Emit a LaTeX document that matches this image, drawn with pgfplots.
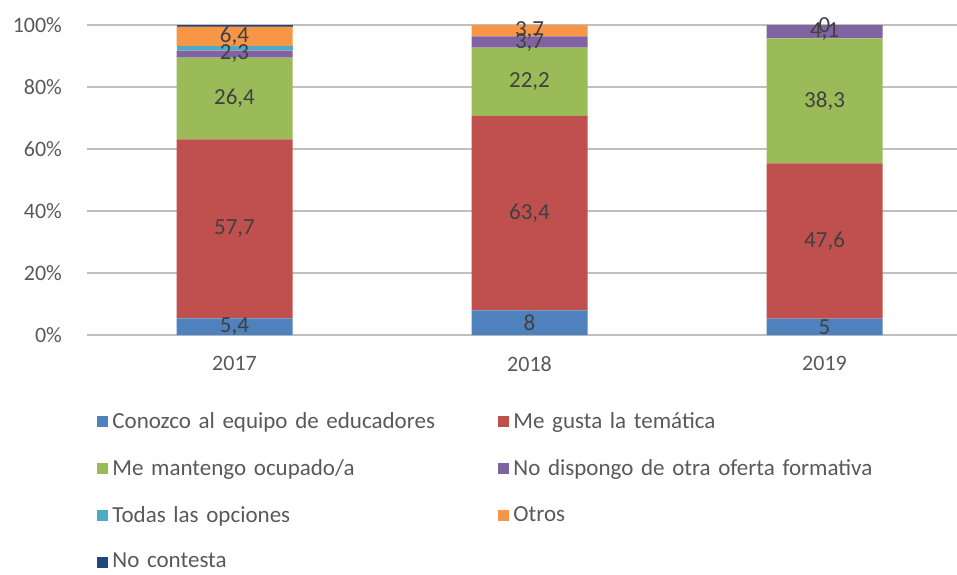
\documentclass[border=0pt]{standalone}
\usepackage{fontspec}
\setmainfont{Carlito}
\usepackage{pgfplots}
\pgfplotsset{compat=1.18}
\usetikzlibrary{calc}

\definecolor{cBlue}{HTML}{4F81BD}
\definecolor{cRed}{HTML}{C0504D}
\definecolor{cGreen}{HTML}{9BBB59}
\definecolor{cPurple}{HTML}{8064A2}
\definecolor{cCyan}{HTML}{4BACC6}
\definecolor{cOrange}{HTML}{F79646}
\definecolor{cNavy}{HTML}{1F497D}
\definecolor{txt}{HTML}{595959}
\definecolor{lbl}{HTML}{404040}
\definecolor{grid}{HTML}{D9D9D9}

\pgfplotsset{
  frame/.style={
    scale only axis,
    width=435pt, height=155pt,
    xmin=-0.5, xmax=2.449,
    ymin=0, ymax=100,
  }
}

\begin{document}
\begin{tikzpicture}
  \begin{axis}[
    name=ax, frame,
    ybar stacked,
    bar width=58pt,
    xtick={0,1,2},
    xticklabels={2017,2018,2019},
    ytick={0,20,...,100},
    yticklabel={\pgfmathprintnumber{\tick}\%},
    /pgf/number format/assume math mode=true,
    ymajorgrids,
    grid style={grid, line width=0.8pt},
    axis line style={draw=none},
    major tick length=0pt,
    tick label style={font=\fontsize{11}{13}\selectfont, text=txt},
    yticklabel style={xshift=-9pt},
    xticklabel style={yshift=-7pt},
    legend style={
      at={(0.0115,-0.235)}, anchor=north west,
      draw=none, fill=none,
      legend columns=2,
      font=\fontsize{11.5}{13}\selectfont, text=txt,
      nodes={text width=191pt, align=left},
      row sep=10pt,
      inner sep=0pt,
    },
    legend cell align=left,
    legend image code/.code={\fill[#1] (0pt,-2.75pt) rectangle (5.5pt,2.75pt);},
  ]
    % shares per year (the chart is a 100% stack)
    \addplot[fill=cBlue, draw=none] coordinates {(0,5.4) (1,7.921) (2,5.263)};
    \addplot[fill=cRed, draw=none] coordinates {(0,57.7) (1,62.772) (2,50.105)};
    \addplot[fill=cGreen, draw=none] coordinates {(0,26.4) (1,21.980) (2,40.316)};
    \addplot[fill=cPurple, draw=none] coordinates {(0,2.3) (1,3.663) (2,4.316)};
    \addplot[fill=cCyan, draw=none] coordinates {(0,1.3) (1,0) (2,0)};
    \addplot[fill=cOrange, draw=none] coordinates {(0,6.4) (1,3.663) (2,0)};
    \addplot[fill=cNavy, draw=none] coordinates {(0,0.5) (1,0) (2,0)};
    \legend{Conozco al equipo de educadores, Me gusta la temática,
      Me mantengo ocupado/a, No dispongo de otra oferta formativa,
      Todas las opciones, Otros, No contesta}
  \end{axis}

  % data labels, at the middle of each segment
  \begin{axis}[
    frame, at={(ax.south west)}, anchor=south west,
    axis lines=none, clip=false,
    point meta=explicit symbolic,
    nodes near coords,
    every node near coord/.append style={
      anchor=center, font=\fontsize{11.5}{13}\selectfont, text=lbl},
  ]
    \addplot[draw=none, mark=none] coordinates {
      (0,2.7)[5,4] (0,34.25)[57,7] (0,76.3)[26,4] (0,90.65)[2,3] (0,96.3)[6,4]
    };
    \addplot[draw=none, mark=none] coordinates {
      (1,3.96)[8] (1,39.31)[63,4] (1,81.68)[22,2] (1,94.5)[3,7] (1,98.17)[3,7]
    };
    \addplot[draw=none, mark=none] coordinates {
      (2,2.63)[5] (2,30.32)[47,6] (2,75.53)[38,3] (2,97.84)[4,1] (2,100)[0]
    };
  \end{axis}
  \pgfresetboundingbox
  \path ($(ax.south west)+(-43.5pt,-119.5pt)$) rectangle ($(ax.north east)+(0pt,12.5pt)$);
\end{tikzpicture}
\end{document}
